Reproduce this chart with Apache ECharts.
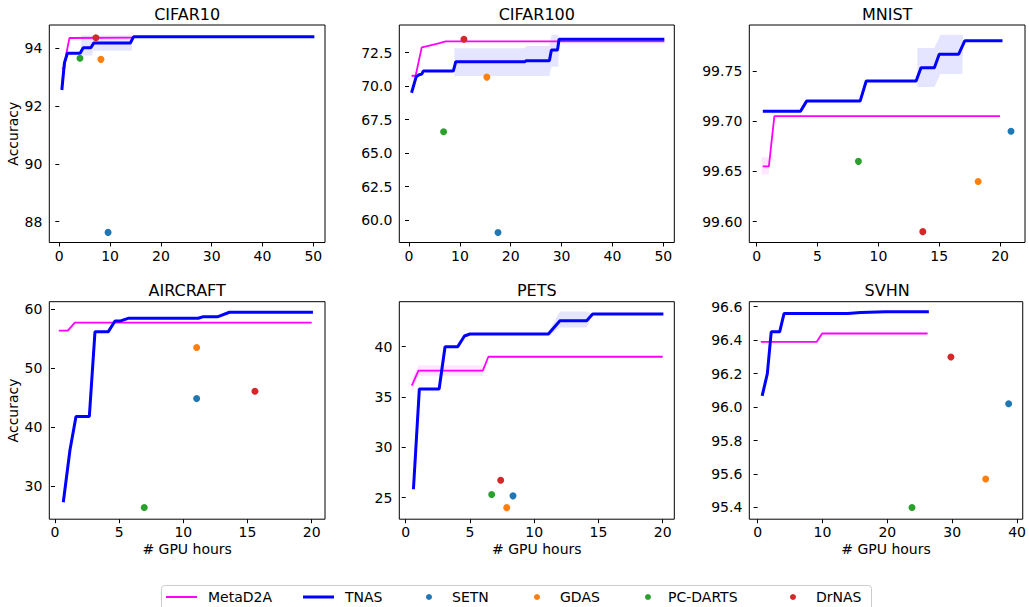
<!DOCTYPE html>
<html>
<head>
<meta charset="utf-8">
<script src="https://cdn.jsdelivr.net/npm/echarts@6/dist/echarts.min.js"></script>
<style>html,body{margin:0;padding:0;background:#fff}#c{width:1029px;height:607px}</style>
</head>
<body>
<div id="c"></div>
<script>
// ---------- data ----------
const titles = ['CIFAR10', 'CIFAR100', 'MNIST', 'AIRCRAFT', 'PETS', 'SVHN'];
const legendNames = ['MetaD2A', 'TNAS', 'SETN', 'GDAS', 'PC-DARTS', 'DrNAS'];

// CIFAR10
const c10MetaX = [0.5, 1.0, 1.3, 2.0, 14.5];
const c10MetaY = [93.31, 93.31, 93.75, 94.36, 94.37];
const c10TnasX = [0.5, 1.0, 1.6, 4.1, 4.7, 6.2, 6.8, 14.0, 14.6, 50.2];
const c10TnasY = [92.56, 93.5, 93.83, 93.83, 94.02, 94.02, 94.19, 94.19, 94.4, 94.4];
const c10BandX = [4.3, 6.5, 6.6, 14.3];
const c10BandLo = [93.75, 93.75, 93.92, 93.92];
const c10BandHi = [94.45, 94.45, 94.45, 94.45];
const c10Points = { SETN: [9.6, 87.63], GDAS: [8.2, 93.62], 'PC-DARTS': [4.07, 93.66], DrNAS: [7.2, 94.37] };

// CIFAR100
const c100MetaX = [0.5, 1.3, 2.5, 3.8, 5.8, 7.2, 50.2];
const c100MetaY = [70.78, 70.78, 72.9, 73.02, 73.2, 73.35, 73.35];
const c100TnasX = [0.5, 1.4, 2.0, 2.5, 2.8, 8.7, 9.2, 22.8, 23.0, 27.6, 28.0, 29.2, 29.5, 50.2];
const c100TnasY = [69.51, 70.7, 70.85, 70.9, 71.13, 71.13, 71.83, 71.83, 71.9, 71.9, 72.7, 72.7, 73.5, 73.5];
const c100BandX = [8.9, 22.8, 23.0, 27.6, 28.0, 29.4];
const c100BandLo = [70.76, 70.76, 70.76, 70.76, 71.45, 71.45];
const c100BandHi = [72.83, 72.83, 73.0, 73.0, 73.85, 73.85];
const c100Points = { SETN: [17.5, 59.08], GDAS: [15.3, 70.68], 'PC-DARTS': [6.8, 66.6], DrNAS: [10.8, 73.5] };

// MNIST
const mnMetaX = [0.5, 1.0, 1.45, 20.0];
const mnMetaY = [99.655, 99.655, 99.705, 99.705];
const mnMetaBandX = [0.4, 1.0];
const mnMetaBandLo = [99.647, 99.647];
const mnMetaBandHi = [99.664, 99.664];
const mnTnasX = [0.5, 3.6, 4.1, 8.5, 9.0, 13.1, 13.5, 14.6, 15.0, 16.6, 17.1, 20.2];
const mnTnasY = [99.71, 99.71, 99.72, 99.72, 99.74, 99.74, 99.7533, 99.7533, 99.7667, 99.7667, 99.78, 99.78];
const mnBandX = [13.2, 14.6, 15.1, 16.9, 16.95];
const mnBandLo = [99.734, 99.734, 99.747, 99.747, 99.78];
const mnBandHi = [99.773, 99.773, 99.786, 99.786, 99.786];
const mnPoints = { SETN: [20.9, 99.69], GDAS: [18.2, 99.64], 'PC-DARTS': [8.36, 99.66], DrNAS: [13.65, 99.59] };

// AIRCRAFT
const acMetaX = [0.3, 1.0, 1.55, 20.0];
const acMetaY = [56.38, 56.38, 57.74, 57.74];
const acTnasX = [0.65, 1.17, 1.64, 2.68, 3.12, 4.16, 4.68, 5.06, 5.7, 11.17, 11.56, 12.7, 13.6, 20.1];
const acTnasY = [27.23, 36.1, 41.8, 41.8, 56.2, 56.2, 58.0, 58.0, 58.47, 58.47, 58.75, 58.75, 59.5, 59.5];
const acPoints = { SETN: [11.04, 44.83], GDAS: [11.04, 53.5], 'PC-DARTS': [6.96, 26.33], DrNAS: [15.58, 46.08] };

// PETS
const ptMetaX = [0.47, 0.99, 6.0, 6.43, 20.0];
const ptMetaY = [36.13, 37.62, 37.62, 39.0, 39.0];
const ptMetaBandX = [0.47, 0.99, 6.0];
const ptMetaBandLo = [35.5, 37.1, 37.1];
const ptMetaBandHi = [36.8, 38.15, 38.15];
const ptTnasX = [0.6, 1.06, 2.6, 3.06, 4.05, 4.57, 5.0, 11.1, 12.0, 14.08, 14.55, 20.05];
const ptTnasY = [25.83, 35.8, 35.8, 40.0, 40.0, 41.06, 41.26, 41.26, 42.58, 42.58, 43.25, 43.25];
const ptBandX = [11.1, 12.0, 14.08, 14.55];
const ptBandLo = [41.0, 41.9, 41.9, 43.25];
const ptBandHi = [41.5, 43.5, 43.5, 43.25];
const ptPoints = { SETN: [8.35, 25.17], GDAS: [7.86, 24.0], 'PC-DARTS': [6.69, 25.3], DrNAS: [7.39, 26.72] };

// SVHN
const svMetaX = [0.5, 9.12, 9.94, 26.2];
const svMetaY = [96.39, 96.39, 96.44, 96.44];
const svTnasX = [0.7, 1.5, 2.1, 3.4, 4.08, 13.9, 15.9, 19.7, 26.4];
const svTnasY = [96.067, 96.2, 96.45, 96.45, 96.56, 96.56, 96.566, 96.57, 96.57];
const svPoints = { SETN: [38.7, 96.02], GDAS: [35.16, 95.57], 'PC-DARTS': [23.8, 95.4], DrNAS: [29.8, 96.3] };

// tick labels
const xTicks = [[0,10,20,30,40,50],[0,10,20,30,40,50],[0,5,10,15,20],[0,5,10,15,20],[0,5,10,15,20],[0,10,20,30,40]];
const yTicks = [[88,90,92,94],[60,62.5,65,67.5,70,72.5],[99.60,99.65,99.70,99.75],[30,40,50,60],[25,30,35,40],[95.4,95.6,95.8,96.0,96.2,96.4,96.6]];
const yDecimals = [0, 1, 2, 0, 0, 1];

// ---------- layout ----------
const FONT = 'DejaVu Sans';
const colLeft = [49.3, 399.3, 749.3];
const colWidth = [275.7, 275, 275.7];
const rowTop = [25, 301.7];
const rowHeight = 217.5;
const xRange = [[-1.97, 52.3], [-1.91, 52.16], [-0.61, 22.05], [-0.44, 21.04], [-0.5, 20.9], [-1.28, 40.87]];
const yRange = [[87.28, 94.81], [58.33, 74.57], [99.5792, 99.7958], [24.34, 61.29], [22.85, 44.47], [95.33, 96.63]];

const panels = [
  { meta: [c10MetaX, c10MetaY], tnas: [c10TnasX, c10TnasY], band: [c10BandX, c10BandLo, c10BandHi], pts: c10Points },
  { meta: [c100MetaX, c100MetaY], tnas: [c100TnasX, c100TnasY], band: [c100BandX, c100BandLo, c100BandHi], pts: c100Points },
  { meta: [mnMetaX, mnMetaY], tnas: [mnTnasX, mnTnasY], band: [mnBandX, mnBandLo, mnBandHi], metaBand: [mnMetaBandX, mnMetaBandLo, mnMetaBandHi], pts: mnPoints },
  { meta: [acMetaX, acMetaY], tnas: [acTnasX, acTnasY], pts: acPoints },
  { meta: [ptMetaX, ptMetaY], tnas: [ptTnasX, ptTnasY], band: [ptBandX, ptBandLo, ptBandHi], metaBand: [ptMetaBandX, ptMetaBandLo, ptMetaBandHi], pts: ptPoints },
  { meta: [svMetaX, svMetaY], tnas: [svTnasX, svTnasY], pts: svPoints }
];

const colors = { MetaD2A: '#ff00ff', TNAS: '#0000ff', SETN: '#1f77b4', GDAS: '#ff7f0e', 'PC-DARTS': '#2ca02c', DrNAS: '#d62728' };

const grid = [], xAxis = [], yAxis = [], series = [], graphic = [];
const zip = (xs, ys) => xs.map((x, i) => [x, ys[i]]);

panels.forEach((p, i) => {
  const r = Math.floor(i / 3), c = i % 3;
  grid.push({ left: colLeft[c], top: rowTop[r], width: colWidth[c], height: rowHeight,
    show: true, borderColor: '#000', borderWidth: 1, backgroundColor: 'transparent', containLabel: false });
  xAxis.push({ type: 'value', gridIndex: i, min: xRange[i][0], max: xRange[i][1],
    axisLine: { show: false }, splitLine: { show: false },
    axisTick: { show: true, length: 4, inside: false, lineStyle: { color: '#000' }, customValues: xTicks[i] },
    axisLabel: { customValues: xTicks[i], margin: 6, color: '#000', fontFamily: FONT, fontSize: 14 },
    name: r === 1 ? '# GPU hours' : '', nameLocation: 'middle', nameGap: 23,
    nameTextStyle: { color: '#000', fontFamily: FONT, fontSize: 14 } });
  const dec = yDecimals[i];
  yAxis.push({ type: 'value', gridIndex: i, min: yRange[i][0], max: yRange[i][1],
    axisLine: { show: false }, splitLine: { show: false },
    axisTick: { show: true, length: 4, lineStyle: { color: '#000' }, customValues: yTicks[i] },
    axisLabel: { customValues: yTicks[i], margin: 7, color: '#000', fontFamily: FONT, fontSize: 14,
      formatter: v => Number(v).toFixed(dec) },
    name: c === 0 ? 'Accuracy' : '', nameLocation: 'middle', nameGap: 29, nameRotate: 90,
    nameTextStyle: { color: '#000', fontFamily: FONT, fontSize: 14 } });

  // shaded band (polygon through the axes' own coordinate mapping)
  const addBand = (b, fill) => {
    const [bx, lo, hi] = b;
    series.push({ type: 'custom', xAxisIndex: i, yAxisIndex: i, silent: true, z: 1, clip: true,
      data: bx.map((x, k) => [x, lo[k], hi[k]]),
      encode: { x: 0, y: [1, 2] },
      renderItem: (params, api) => {
        if (params.dataIndex !== 0) return null;
        const pts = [];
        for (let k = 0; k < bx.length; k++) pts.push(api.coord([bx[k], lo[k]]));
        for (let k = bx.length - 1; k >= 0; k--) pts.push(api.coord([bx[k], hi[k]]));
        return { type: 'polygon', shape: { points: pts }, style: { fill: fill, stroke: null, lineWidth: 0 } };
      } });
  };
  if (p.metaBand) addBand(p.metaBand, 'rgba(255,0,255,0.1)');
  if (p.band) addBand(p.band, 'rgba(0,0,255,0.1)');

  series.push({ name: 'MetaD2A', type: 'line', xAxisIndex: i, yAxisIndex: i, symbol: 'none',
    data: zip(p.meta[0], p.meta[1]), lineStyle: { color: colors.MetaD2A, width: 1.8 }, itemStyle: { color: colors.MetaD2A }, z: 2 });
  series.push({ name: 'TNAS', type: 'line', xAxisIndex: i, yAxisIndex: i, symbol: 'none',
    data: zip(p.tnas[0], p.tnas[1]), lineStyle: { color: colors.TNAS, width: 3 }, itemStyle: { color: colors.TNAS }, z: 3 });
  ['SETN', 'GDAS', 'PC-DARTS', 'DrNAS'].forEach(n => {
    series.push({ name: n, type: 'scatter', xAxisIndex: i, yAxisIndex: i, symbol: 'circle', symbolSize: 7,
      data: [p.pts[n]], itemStyle: { color: colors[n], opacity: 1 }, z: 4 });
  });

  graphic.push({ type: 'text', x: colLeft[c] + colWidth[c] / 2, y: rowTop[r] - 11,
    style: { text: titles[i], align: 'center', verticalAlign: 'middle', font: '16px "' + FONT + '"', fill: '#000' } });
});

// legend frame
graphic.push({ type: 'rect', z: -1, shape: { x: 161.5, y: 585.5, width: 710, height: 40, r: 3 },
  style: { fill: '#fff', stroke: '#cccccc', lineWidth: 1 } });

const legendLeft = { MetaD2A: 166, TNAS: 303, SETN: 426, GDAS: 534, 'PC-DARTS': 645, DrNAS: 790 };
const legendPad = { MetaD2A: 6, TNAS: 6, SETN: 15, GDAS: 15, 'PC-DARTS': 12, DrNAS: 15 };
const legendIconW = { MetaD2A: 31, TNAS: 31, SETN: 6, GDAS: 6, 'PC-DARTS': 6, DrNAS: 6 };
const legendIconH = { MetaD2A: 2, TNAS: 3, SETN: 6, GDAS: 6, 'PC-DARTS': 6, DrNAS: 6 };
const legend = legendNames.map(n => {
  const isLine = (n === 'MetaD2A' || n === 'TNAS');
  return { data: [{ name: n, icon: isLine ? 'rect' : 'circle' }], left: legendLeft[n], top: 590, padding: 0,
    orient: 'horizontal', itemWidth: legendIconW[n], itemHeight: legendIconH[n], selectedMode: false,
    textStyle: { color: '#000', fontFamily: FONT, fontSize: 14, padding: [0, 0, 0, legendPad[n]] } };
});

const chart = echarts.init(document.getElementById('c'), null, { renderer: 'svg' });
chart.setOption({ animation: false, backgroundColor: '#fff', grid, xAxis, yAxis, series, graphic, legend });
</script>
</body>
</html>
